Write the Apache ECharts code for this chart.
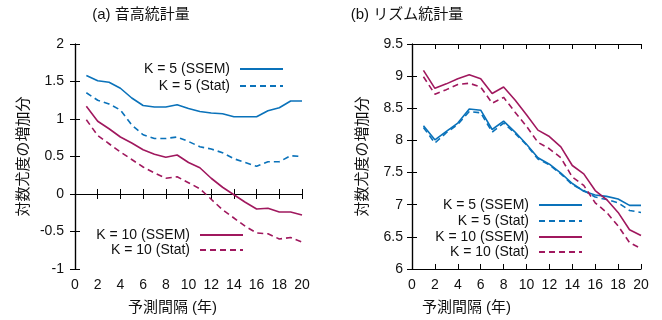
<!DOCTYPE html>
<html>
<head>
<meta charset="utf-8">
<script src="https://cdn.jsdelivr.net/npm/echarts@6/dist/echarts.min.js"></script>
<style>
  html, body { margin: 0; padding: 0; background: #fff; }
  #chart { width: 662px; height: 320px; }
</style>
</head>
<body>
<div id="chart"></div>
<script>
// Prediction interval (years)
const horizons = [1,2,3,4,5,6,7,8,9,10,11,12,13,14,15,16,17,18,19,20];
const xTicks = [0,2,4,6,8,10,12,14,16,18,20];

// (a) pitch statistics: log-likelihood gain
const pitchK5SSEM  = [1.58,1.51,1.49,1.41,1.28,1.18,1.16,1.16,1.19,1.14,1.10,1.08,1.07,1.03,1.03,1.03,1.11,1.15,1.24,1.24];
const pitchK5Stat  = [1.35,1.25,1.20,1.12,0.92,0.79,0.74,0.74,0.76,0.70,0.63,0.60,0.55,0.47,0.42,0.37,0.43,0.43,0.51,0.50];
const pitchK10SSEM = [1.17,0.97,0.87,0.76,0.68,0.59,0.53,0.49,0.52,0.42,0.35,0.21,0.09,-0.01,-0.11,-0.20,-0.19,-0.24,-0.24,-0.28];
const pitchK10Stat = [0.99,0.78,0.67,0.56,0.46,0.36,0.28,0.21,0.23,0.15,0.07,-0.07,-0.21,-0.32,-0.43,-0.52,-0.53,-0.60,-0.58,-0.64];

// (b) rhythm statistics: log-likelihood gain
const rhythmK5SSEM  = [8.23,8.01,8.14,8.27,8.49,8.47,8.17,8.30,8.13,7.94,7.73,7.63,7.49,7.33,7.21,7.15,7.13,7.09,6.99,6.99];
const rhythmK5Stat  = [8.20,7.96,8.12,8.25,8.45,8.43,8.13,8.27,8.11,7.93,7.71,7.62,7.48,7.31,7.22,7.12,7.08,7.03,6.91,6.88];
const rhythmK10SSEM = [9.09,8.81,8.88,8.96,9.02,8.96,8.73,8.83,8.63,8.40,8.16,8.06,7.90,7.61,7.48,7.22,7.08,6.88,6.61,6.52];
const rhythmK10Stat = [8.99,8.72,8.79,8.87,8.89,8.83,8.58,8.67,8.44,8.22,7.97,7.87,7.73,7.43,7.30,7.03,6.88,6.67,6.41,6.32];

const seriesNames = ['K = 5 (SSEM)', 'K = 5 (Stat)', 'K = 10 (SSEM)', 'K = 10 (Stat)'];
const titles = ['(a) 音高統計量', '(b) リズム統計量'];
const xName = '予測間隔 (年)';
const yName = '対数尤度の増加分';

const BLUE = '#0a72ba';
const PURPLE = '#a0185e';
const FONT = "'Liberation Sans', 'Noto Sans CJK JP', sans-serif";
const TXT = '#111';

function pairs(ys) { return horizons.map((x, i) => [x, ys[i]]); }

function lineSeries(name, ys, color, dashed, idx) {
  return {
    type: 'line', name: name, data: pairs(ys),
    xAxisIndex: idx * 2, yAxisIndex: idx * 2,
    symbol: 'none', smooth: false,
    lineStyle: { color: color, width: 1.6, type: dashed ? [6, 4] : 'solid' },
    itemStyle: { color: color },
    emphasis: { disabled: true }
  };
}

const grids = [
  { left: 75, right: 360, top: 44, bottom: 51 },
  { left: 412, right: 21, top: 44, bottom: 51 }
];
const yRanges = [[-1, 2], [6, 9.5]];

const xAxes = [], yAxes = [];
[0, 1].forEach(g => {
  const line = { show: true, lineStyle: { color: '#000', width: 1.2 } };
  xAxes.push({
    type: 'value', gridIndex: g, min: xTicks[0], max: xTicks[xTicks.length - 1], interval: 2,
    position: 'bottom', axisLine: line,
    axisTick: { show: true, inside: true, length: 5, lineStyle: { color: '#000' } },
    axisLabel: { color: TXT, fontSize: 14, fontFamily: FONT, margin: 9 },
    splitLine: { show: false },
    name: xName, nameLocation: 'middle', nameGap: 31,
    nameTextStyle: { color: TXT, fontSize: 15, fontFamily: FONT, padding: g === 0 ? [0, 32, 0, 0] : [0, 120, 0, 0] }
  });
  xAxes.push({
    type: 'value', gridIndex: g, min: xTicks[0], max: xTicks[xTicks.length - 1], interval: 2,
    position: 'top', axisLine: line,
    axisTick: { show: true, inside: true, length: 5, lineStyle: { color: '#000' } },
    axisLabel: { show: false }, splitLine: { show: false }
  });
  yAxes.push({
    type: 'value', gridIndex: g, min: yRanges[g][0], max: yRanges[g][1], interval: 0.5,
    position: 'left', axisLine: line,
    axisTick: { show: true, inside: true, length: 5, lineStyle: { color: '#000' } },
    axisLabel: { color: TXT, fontSize: 14, fontFamily: FONT, margin: g === 0 ? 11 : 9 },
    splitLine: { show: false },
    name: yName, nameLocation: 'middle', nameRotate: 90, nameGap: g === 0 ? 44 : 42,
    nameTextStyle: { color: TXT, fontSize: 15, fontFamily: FONT }
  });
  yAxes.push({
    type: 'value', gridIndex: g, min: yRanges[g][0], max: yRanges[g][1], interval: 0.5,
    position: 'right', axisLine: line,
    axisTick: { show: true, inside: true, length: 5, lineStyle: { color: '#000' } },
    axisLabel: { show: false }, splitLine: { show: false }
  });
});

const series = [
  lineSeries(seriesNames[0], pitchK5SSEM, BLUE, false, 0),
  lineSeries(seriesNames[1], pitchK5Stat, BLUE, true, 0),
  lineSeries(seriesNames[2], pitchK10SSEM, PURPLE, false, 0),
  lineSeries(seriesNames[3], pitchK10Stat, PURPLE, true, 0),
  lineSeries(seriesNames[0], rhythmK5SSEM, BLUE, false, 1),
  lineSeries(seriesNames[1], rhythmK5Stat, BLUE, true, 1),
  lineSeries(seriesNames[2], rhythmK10SSEM, PURPLE, false, 1),
  lineSeries(seriesNames[3], rhythmK10Stat, PURPLE, true, 1)
];

// One legend entry per key; text sits left of the line sample, right-aligned
function legendEntry(name, rightPx, centerY) {
  return {
    data: [name], orient: 'vertical', align: 'right',
    right: rightPx, top: centerY - 8, padding: 0,
    itemWidth: 43, itemHeight: 16, selectedMode: false,
    itemStyle: { color: 'rgba(0,0,0,0)', borderWidth: 0, opacity: 0 },
    textStyle: { color: TXT, fontSize: 14, fontFamily: FONT, padding: [0, 5, 0, 0] }
  };
}

const legends = [
  legendEntry(seriesNames[0], 378, 70),
  legendEntry(seriesNames[1], 378, 87),
  legendEntry(seriesNames[2], 418, 236),
  legendEntry(seriesNames[3], 418, 251),
  legendEntry(seriesNames[0], 79, 206),
  legendEntry(seriesNames[1], 79, 222),
  legendEntry(seriesNames[2], 79, 238),
  legendEntry(seriesNames[3], 79, 253)
];

const chart = echarts.init(document.getElementById('chart'), null, { renderer: 'canvas' });
chart.setOption({
  backgroundColor: '#fff',
  animation: false,
  grid: grids,
  xAxis: xAxes,
  yAxis: yAxes,
  legend: legends,
  series: series,
  graphic: [
    { type: 'text', x: 141, y: 15, style: { text: titles[0], fill: TXT, font: '15px ' + FONT, align: 'center', verticalAlign: 'middle' } },
    { type: 'text', x: 407, y: 15, style: { text: titles[1], fill: TXT, font: '15px ' + FONT, align: 'center', verticalAlign: 'middle' } }
  ]
});
</script>
</body>
</html>
